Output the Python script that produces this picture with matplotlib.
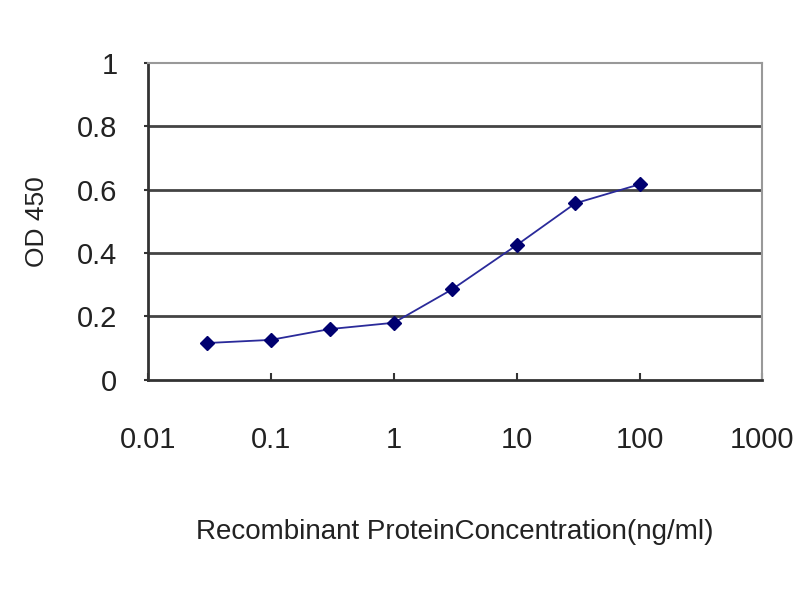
import numpy as np
import matplotlib.pyplot as plt

conc = [0.03, 0.1, 0.3, 1, 3, 10, 30, 100]
od450 = [0.116, 0.126, 0.16, 0.18, 0.286, 0.425, 0.557, 0.617]
xticks = [0.01, 0.1, 1, 10, 100, 1000]
xtick_labels = ['0.01', '0.1', '1', '10', '100', '1000']
yticks = [0, 0.2, 0.4, 0.6, 0.8, 1]
ytick_labels = ['0', '0.2', '0.4', '0.6', '0.8', '1']

plt.rcParams['font.family'] = ['Liberation Sans', 'DejaVu Sans']

fig = plt.figure(figsize=(8, 6), dpi=100)
ax = fig.add_axes([0.185, 0.367, 0.768, 0.528])

ax.plot(conc, od450, color='#2a2a9a', lw=1.3, marker='D', markersize=7,
        markerfacecolor='#000070', markeredgecolor='#000070', zorder=3)

ax.set_xscale('log')
ax.set_xlim(0.01, 1000)
ax.set_ylim(0, 1)
ax.set_xticks(xticks)
ax.set_xticklabels(xtick_labels)
ax.minorticks_off()
ax.set_yticks(yticks)
ax.set_yticklabels(ytick_labels)

for y in yticks[1:-1]:
    ax.axhline(y, color='#444444', lw=2, zorder=1)

for side in ['top', 'right']:
    ax.spines[side].set_color('#999999')
    ax.spines[side].set_linewidth(1.5)
for side in ['left', 'bottom']:
    ax.spines[side].set_color('#333333')
    ax.spines[side].set_linewidth(2)

ax.tick_params(axis='x', direction='in', length=5, width=1.5, labelsize=21, pad=33, colors='#333333', labelcolor='#222222')
ax.tick_params(axis='y', direction='out', length=3, width=1.5, labelsize=21, pad=19, colors='#333333', labelcolor='#222222')

ax.set_ylabel('OD 450', fontsize=19, color='#222222', labelpad=20)
ax.set_xlabel('Recombinant ProteinConcentration(ng/ml)', fontsize=20, color='#222222', labelpad=47)

fig.savefig('out.png', dpi=100)
